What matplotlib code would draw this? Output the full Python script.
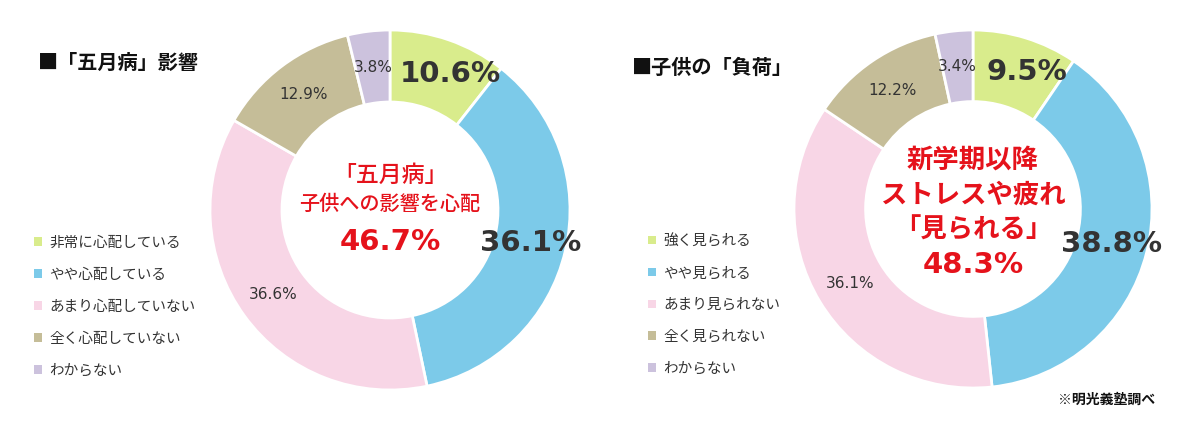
import matplotlib
matplotlib.use("Agg")
import matplotlib.pyplot as plt
import numpy as np
from matplotlib.patches import Patch

plt.rcParams['font.family'] = ['Noto Sans CJK JP', 'DejaVu Sans']
NUMFONT = ['DejaVu Sans', 'Noto Sans CJK JP']

# ---- data ----
colors = ['#d9ec8c', '#7ccae9', '#f8d6e6', '#c5bd98', '#ccc2dd']

left_title = '■「五月病」影響'
left_labels = ['非常に心配している', 'やや心配している', 'あまり心配していない', '全く心配していない', 'わからない']
left_values = [10.6, 36.1, 36.6, 12.9, 3.8]
left_center = ['「五月病」', '子供への影響を心配', '46.7%']

right_title = '■子供の「負荷」'
right_labels = ['強く見られる', 'やや見られる', 'あまり見られない', '全く見られない', 'わからない']
right_values = [9.5, 38.8, 36.1, 12.2, 3.4]
right_center = ['新学期以降', 'ストレスや疲れ', '「見られる」', '48.3%']

note = '※明光義塾調べ'

W, H = 1200, 423
fig = plt.figure(figsize=(W / 100, H / 100), dpi=100)
fig.patch.set_facecolor('white')

RED = '#e5121b'
DARK = '#333333'


def donut(cx, cy, R, values, big_shift):
    ax = fig.add_axes([(cx - R) / W, (H - cy - R) / H, 2 * R / W, 2 * R / H])
    wedges, _ = ax.pie(values, colors=colors, startangle=90, counterclock=False,
                       radius=1.0, wedgeprops=dict(width=0.4, edgecolor='white', linewidth=2))
    ax.set_xlim(-1, 1)
    ax.set_ylim(-1, 1)
    ax.set_aspect('equal')
    ax.axis('off')
    for i, (w, v) in enumerate(zip(wedges, values)):
        mid = np.deg2rad((w.theta1 + w.theta2) / 2)
        x, y = 0.8 * np.cos(mid), 0.8 * np.sin(mid)
        if i < 2:
            x += big_shift[i]
            ax.text(x, y, f'{v}%', ha='center', va='center', fontsize=21,
                    fontweight='bold', color=DARK, family=NUMFONT)
        else:
            ax.text(x, y, f'{v}%', ha='center', va='center', fontsize=11,
                    color=DARK, family=NUMFONT)
    return ax, wedges


axL, wL = donut(390, 210, 180, left_values, [0.075, 0.0])
axR, wR = donut(973, 209, 179, right_values, [0.065, 0.0])

# center texts
axL.text(0, 0.19, left_center[0], ha='center', va='center', fontsize=16.5, color=RED, fontweight='medium')
axL.text(0, 0.03, left_center[1], ha='center', va='center', fontsize=14.5, color=RED, fontweight='medium')
axL.text(0, -0.18, left_center[2], ha='center', va='center', fontsize=21, color=RED, fontweight='bold',
         family=NUMFONT)

ys = [0.275, 0.08, -0.117, -0.315]
for t, y in zip(right_center[:3], ys[:3]):
    axR.text(0, y, t, ha='center', va='center', fontsize=19, color=RED, fontweight='bold')
axR.text(0, ys[3], right_center[3], ha='center', va='center', fontsize=21, color=RED, fontweight='bold',
         family=NUMFONT)

# titles
fig.text(38 / W, 1 - 62 / H, left_title, ha='left', va='center', fontsize=14.5, fontweight='bold', color='#111111')
fig.text(632 / W, 1 - 67 / H, right_title, ha='left', va='center', fontsize=14.5, fontweight='bold', color='#111111')


# legends
def make_legend(labels, x, ytop):
    handles = [Patch(facecolor=c, edgecolor='none') for c in colors]
    leg = fig.legend(handles, labels, loc='upper left', bbox_to_anchor=(x / W, 1 - ytop / H),
                     frameon=False, fontsize=10.5, handlelength=0.55, handleheight=0.55,
                     handletextpad=0.5, labelspacing=1.23, borderpad=0, borderaxespad=0)
    for t in leg.get_texts():
        t.set_color(DARK)
    return leg


make_legend(left_labels, 34, 236)
make_legend(right_labels, 648, 234)

fig.text(1058 / W, 1 - 400 / H, note, ha='left', va='center', fontsize=10, fontweight='bold', color='#111111')

fig.savefig('out.png', dpi=100, facecolor='white')
